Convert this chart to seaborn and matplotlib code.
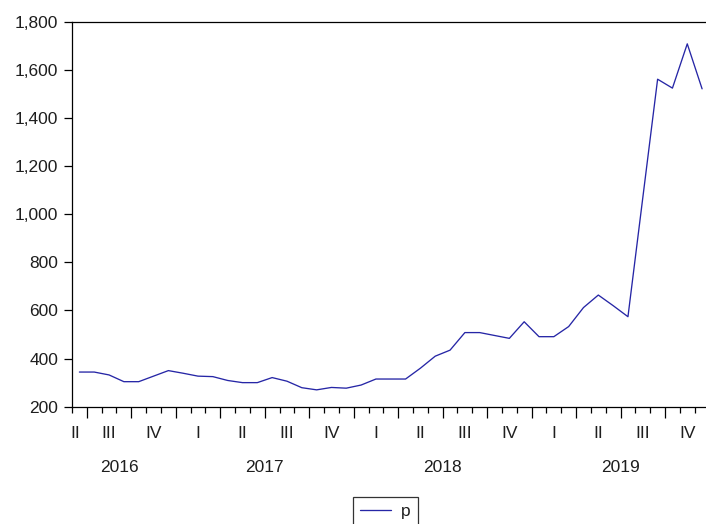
import numpy as np
import pandas as pd
import matplotlib
matplotlib.use("Agg")
import matplotlib.pyplot as plt
import seaborn as sns
from matplotlib.ticker import FuncFormatter, FixedLocator

# ---------------- data ----------------
start_month = "2016-06"
end_month = "2019-12"
series_name = "p"
p_values = [
    344, 344, 332, 304, 304, 327, 350,                      # 2016 Jun-Dec
    339, 327, 325, 309, 300, 300, 321, 306, 279, 270, 280, 277,  # 2017
    290, 315, 315, 315, 360, 410, 435, 508, 508, 496, 484, 553,  # 2018
    491, 491, 533, 612, 664, 620, 574, 1068, 1561, 1524, 1708, 1521,  # 2019
]
quarter_names = ["I", "II", "III", "IV"]
y_ticks = [200, 400, 600, 800, 1000, 1200, 1400, 1600, 1800]

months = pd.period_range(start_month, end_month, freq="M")
df = pd.DataFrame({"month": months, "idx": np.arange(len(months)), series_name: p_values})

# ---------------- style ----------------
sns.set_theme(style="white")
plt.rcParams["font.family"] = ["Liberation Sans", "DejaVu Sans"]
FS = 12.5
TXT = "#1e1e1e"
LINE = "#2626a6"

W, H = 706, 524
fig = plt.figure(figsize=(W / 100, H / 100), dpi=100)
left_px, right_px, top_px, bottom_px = 72.0, 709.5, 21.7, 406.7
ax = fig.add_axes([left_px / W, 1 - bottom_px / H,
                   (right_px - left_px) / W, (bottom_px - top_px) / H])

sns.lineplot(data=df, x="idx", y=series_name, ax=ax, color=LINE,
             linewidth=0.95, label=series_name, legend=False)

n = len(months)
ax.set_xlim(-0.5, n - 0.5)
ax.set_ylim(y_ticks[0], y_ticks[-1])

for s in ["left", "bottom", "top"]:
    ax.spines[s].set_visible(True)
    ax.spines[s].set_color("black")
    ax.spines[s].set_linewidth(0.9)
ax.spines["right"].set_visible(False)

# y axis
ax.set_yticks(y_ticks)
ax.yaxis.set_major_formatter(FuncFormatter(lambda v, _: f"{int(v):,}"))
ax.tick_params(axis="y", which="major", left=True, right=False, direction="out",
               length=6, width=0.9, color="black", pad=4, labelsize=FS, labelcolor=TXT)

# x axis: month boundaries (minor), quarter boundaries (major)
boundaries = np.arange(n + 1) - 0.5
month_nums = np.array([m.month for m in months] + [1])
q_bounds = [b for b, m in zip(boundaries, month_nums) if (m - 1) % 3 == 0]
ax.xaxis.set_major_locator(FixedLocator(q_bounds))
ax.xaxis.set_minor_locator(FixedLocator(boundaries))
ax.tick_params(axis="x", which="major", bottom=True, top=False, direction="out",
               length=8, width=0.9, color="black", labelbottom=False)
ax.tick_params(axis="x", which="minor", bottom=True, top=False, direction="out",
               length=4, width=0.9, color="black")
ax.set_xlabel("")
ax.set_ylabel("")

# quarter labels and year labels
df["q"] = [m.quarter for m in months]
df["y"] = [m.year for m in months]
for (yr, q), g in df.groupby(["y", "q"]):
    cx = g["idx"].mean()
    if len(g) < 3:
        cx -= 0.3
    ax.annotate(quarter_names[q - 1], xy=(cx, 0), xycoords=("data", "axes fraction"),
                xytext=(0, -19.2), textcoords="offset points", ha="center", va="center",
                fontsize=FS, color=TXT)
for yr, g in df.groupby("y"):
    cx = g["idx"].mean()
    if len(g) < 12:
        cx -= 0.3
    ax.annotate(str(yr), xy=(cx, 0), xycoords=("data", "axes fraction"),
                xytext=(0, -43.6), textcoords="offset points", ha="center", va="center",
                fontsize=FS, color=TXT)

# legend
handles, labels = ax.get_legend_handles_labels()
leg = fig.legend(handles, labels, loc="upper left",
                 bbox_to_anchor=(352.7 / W, 1 - 497.3 / H), borderaxespad=0,
                 frameon=True, fancybox=False, edgecolor="black", fontsize=FS,
                 handlelength=1.8, handletextpad=0.6, borderpad=0.4)
leg.get_frame().set_linewidth(0.9)
for t in leg.get_texts():
    t.set_color(TXT)

fig.savefig("out.png", dpi=100, facecolor="white")
